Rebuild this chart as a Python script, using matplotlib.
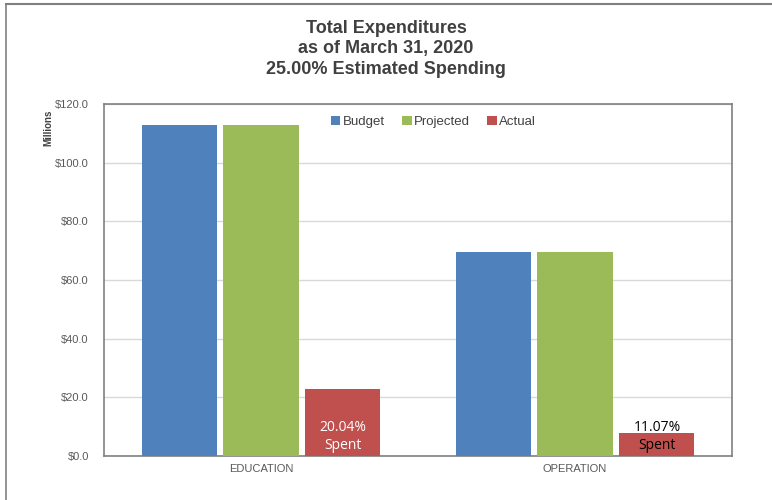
import numpy as np
import matplotlib
matplotlib.use("Agg")
import matplotlib.pyplot as plt
from matplotlib.lines import Line2D
from matplotlib import font_manager

categories = ["EDUCATION", "OPERATION"]
budget = [112.8, 69.5]
projected = [112.8, 69.5]
actual = [22.8, 7.8]
spent_labels = ["20.04%\nSpent", "11.07%\nSpent"]
spent_colors = ["white", "black"]
series_names = ["Budget", "Projected", "Actual"]
colors = ["#4F81BD", "#9BBB59", "#C0504D"]

plt.rcParams['font.family'] = ['Liberation Sans', 'DejaVu Sans']

# narrow face for the title if it is there
installed = {f.name for f in font_manager.fontManager.ttflist}
title_family = ['Liberation Sans Narrow'] if 'Liberation Sans Narrow' in installed else ['Liberation Sans']

fig = plt.figure(figsize=(7.72, 5.0), dpi=100)
ax = fig.add_axes([104/772, 44/500, 628/772, 352/500])

x = np.arange(len(categories))
width = 0.239
step = 0.261
for i, (vals, c, name) in enumerate(zip([budget, projected, actual], colors, series_names)):
    ax.bar(x + (i - 1)*step, vals, width, color=c, label=name, zorder=3)

for i in range(len(categories)):
    ax.text(x[i] + step, 6.6, spent_labels[i], ha='center', va='center',
            color=spent_colors[i], fontsize=10, family=['Open Sans', 'DejaVu Sans'],
            linespacing=1.25, zorder=4)

ax.set_xlim(-0.5, 1.5)
ax.set_ylim(0, 120)
ax.set_yticks(np.arange(0, 121, 20))
ax.set_yticklabels(["$%.1f" % v for v in np.arange(0, 121, 20)])
ax.set_xticks(x)
ax.set_xticklabels(categories)
ax.tick_params(axis='both', length=0, labelsize=8, colors='#595959')
ax.tick_params(axis='y', pad=11)
ax.tick_params(axis='x', pad=6)
ax.yaxis.grid(True, color='#d9d9d9', linewidth=1, zorder=0)
for s in ax.spines.values():
    s.set_color('#808080')
    s.set_linewidth(1.2)

ax.legend(loc='upper center', bbox_to_anchor=(0.525, 1.0), ncol=3, frameon=False,
          fontsize=9.5, handlelength=0.7, handleheight=0.7, handletextpad=0.2,
          columnspacing=1.3, labelcolor='#404040')

fig.text(48/772, 1 - 128/500, "Millions", rotation=90, ha='center', va='center',
         fontsize=7, fontweight='bold', color='#404040')

fig.text(0.5, 1 - 49/500, "Total Expenditures\nas of March 31, 2020\n25.00% Estimated Spending",
         ha='center', va='center', fontsize=13, fontweight='bold', color='#404040',
         linespacing=1.3, family=title_family)

# outer frame (top and left edges visible in reference)
fig.add_artist(Line2D([6/772, 1], [1 - 4/500, 1 - 4/500], color='#808080', linewidth=1.5))
fig.add_artist(Line2D([6/772, 6/772], [0, 1 - 4/500], color='#808080', linewidth=1.2))

fig.savefig("out.png", dpi=100)
